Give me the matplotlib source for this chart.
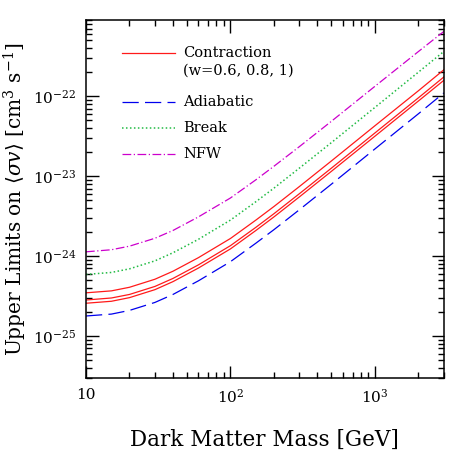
import matplotlib
matplotlib.use("Agg")
import matplotlib.pyplot as plt
from matplotlib.ticker import LogLocator, FixedLocator, NullFormatter

plt.rcParams['font.family'] = 'DejaVu Serif'
plt.rcParams['mathtext.fontset'] = 'dejavuserif'

# dark matter mass [GeV]
mass = [10, 15, 20, 30, 40, 60, 100, 150, 200, 300, 500, 1000, 2000, 3000]

# upper limits on <sigma v> [cm^3 s^-1]
contraction_06 = [3.47e-25, 3.67e-25, 4.07e-25, 5.13e-25, 6.46e-25, 9.55e-25, 1.66e-24,
                  2.82e-24, 4.17e-24, 7.41e-24, 1.55e-23, 4.27e-23, 1.17e-22, 2.14e-22]
contraction_08 = [2.82e-25, 2.99e-25, 3.31e-25, 4.17e-25, 5.25e-25, 7.76e-25, 1.35e-24,
                  2.29e-24, 3.39e-24, 6.03e-24, 1.26e-23, 3.47e-23, 9.55e-23, 1.74e-22]
contraction_1 = [2.57e-25, 2.72e-25, 3.02e-25, 3.80e-25, 4.79e-25, 7.08e-25, 1.23e-24,
                 2.09e-24, 3.09e-24, 5.50e-24, 1.15e-23, 3.16e-23, 8.71e-23, 1.58e-22]
adiabatic = [1.78e-25, 1.88e-25, 2.09e-25, 2.63e-25, 3.31e-25, 4.90e-25, 8.51e-25,
             1.45e-24, 2.14e-24, 3.80e-24, 7.94e-24, 2.19e-23, 6.03e-23, 1.10e-22]
brk = [5.89e-25, 6.24e-25, 6.92e-25, 8.71e-25, 1.10e-24, 1.62e-24, 2.82e-24,
       4.79e-24, 7.08e-24, 1.26e-23, 2.63e-23, 7.24e-23, 2.00e-22, 3.63e-22]
nfw = [1.13e-24, 1.20e-24, 1.33e-24, 1.67e-24, 2.09e-24, 3.09e-24, 5.33e-24,
       9.00e-24, 1.33e-23, 2.34e-23, 4.86e-23, 1.33e-22, 3.62e-22, 6.46e-22]

red = '#ff1a1a'
blue = '#0000ee'
green = '#22bb44'
magenta = '#cc00cc'

fig = plt.figure(figsize=(4.63, 4.63), dpi=100)
ax = fig.add_axes([0.1857, 0.184, 0.773, 0.773])

lw = 0.9
ax.plot(mass, contraction_06, color=red, lw=lw)
ax.plot(mass, contraction_08, color=red, lw=lw)
ax.plot(mass, contraction_1, color=red, lw=lw)
ax.plot(mass, adiabatic, color=blue, lw=lw, dashes=(13, 5))
ax.plot(mass, brk, color=green, lw=1.1, dashes=(1, 1.6))
ax.plot(mass, nfw, color=magenta, lw=lw, dashes=(7, 2, 1, 2))

ax.set_xscale('log')
ax.set_yscale('log')
ax.set_xlim(10, 3000)
ax.set_ylim(3e-26, 9e-22)

ax.xaxis.set_major_locator(FixedLocator([10, 100, 1000]))
ax.set_xticklabels(['10', r'$10^2$', r'$10^3$'])
ax.xaxis.set_minor_locator(LogLocator(base=10, subs=range(2, 10)))
ax.xaxis.set_minor_formatter(NullFormatter())
ax.yaxis.set_major_locator(FixedLocator([1e-25, 1e-24, 1e-23, 1e-22]))
ax.set_yticklabels([r'$10^{-25}$', r'$10^{-24}$', r'$10^{-23}$', r'$10^{-22}$'])
ax.yaxis.set_minor_locator(LogLocator(base=10, subs=range(2, 10), numticks=20))
ax.yaxis.set_minor_formatter(NullFormatter())

ax.tick_params(which='both', direction='in', top=True, right=True, width=1)
ax.tick_params(which='major', length=9, labelsize=11, pad=7)
ax.tick_params(which='minor', length=4.5)
for s in ax.spines.values():
    s.set_linewidth(1.1)

ax.set_xlabel('Dark Matter Mass [GeV]', fontsize=15.5, labelpad=17)
ax.set_ylabel(r'Upper Limits on $\langle\sigma v\rangle$ [cm$^3$ s$^{-1}$]', fontsize=14.5)
ax.yaxis.set_label_coords(-0.16, 0.5)

# legend
fs = 10.5
x0, x1, xt = 0.1006, 0.2486, 0.271
ax.plot([x0, x1], [0.908, 0.908], transform=ax.transAxes, color=red, lw=lw)
ax.text(xt, 0.908, 'Contraction', transform=ax.transAxes, fontsize=fs, va='center')
ax.text(xt, 0.857, '(w=0.6, 0.8, 1)', transform=ax.transAxes, fontsize=fs, va='center')
ax.plot([x0, x1], [0.771, 0.771], transform=ax.transAxes, color=blue, lw=lw, dashes=(13, 5))
ax.text(xt, 0.771, 'Adiabatic', transform=ax.transAxes, fontsize=fs, va='center')
ax.plot([x0, x1], [0.698, 0.698], transform=ax.transAxes, color=green, lw=1.1, dashes=(1, 1.6))
ax.text(xt, 0.698, 'Break', transform=ax.transAxes, fontsize=fs, va='center')
ax.plot([x0, x1], [0.625, 0.625], transform=ax.transAxes, color=magenta, lw=lw, dashes=(7, 2, 1, 2))
ax.text(xt, 0.625, 'NFW', transform=ax.transAxes, fontsize=fs, va='center')

fig.savefig('out.png', dpi=100)
